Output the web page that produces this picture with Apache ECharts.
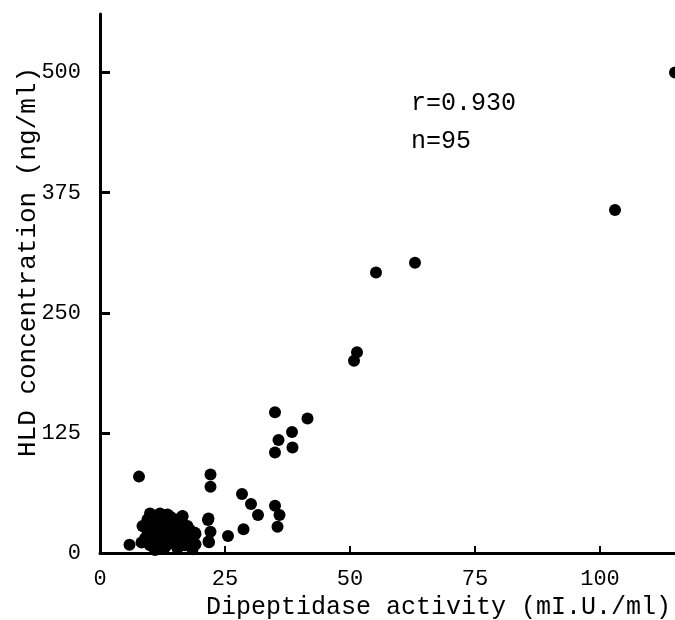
<!DOCTYPE html>
<html>
<head>
<meta charset="utf-8">
<script src="https://cdn.jsdelivr.net/npm/echarts@6/dist/echarts.min.js"></script>
<style>html,body{margin:0;padding:0;background:#fff}#c{width:675px;height:620px}</style>
</head>
<body>
<div id="c"></div>
<script>
// Dipeptidase activity (mI.U./ml)
var xValues = [115, 103, 63, 55.2, 51.4, 50.8,
  35, 41.5, 38.4, 35.7, 38.5, 35,
  7.8, 22.1, 22.1, 28.4, 30.2, 35, 35.9, 31.6, 35.5, 28.7, 25.6,
  21.6, 22.1, 21.8, 19.1, 19.1, 16.5, 5.9,
  8.5, 9, 9.5, 10, 10, 10, 11, 11, 11.5, 12, 12, 12, 12.5, 13, 13, 13.5,
  14, 14, 14.5, 15, 15, 15.5, 16, 16, 16.5, 17, 17, 17.5, 18, 18.5,
  9, 10.5, 11, 13, 14, 15, 16, 12, 10, 13, 8.3, 21.7, 21.7, 19, 11.5, 14.5,
  9.5, 11, 12.5, 13.5, 15, 16.5, 17.5, 18];
// HLD concentration (ng/ml)
var yValues = [500, 357, 302, 292, 209, 200,
  146.5, 140, 126, 117.7, 109.7, 104.5,
  79.5, 81.6, 69, 61.5, 51, 49.3, 39.6, 39.6, 27.4, 24.6, 17.7,
  34.4, 22.2, 11.1, 19.8, 9, 38.5, 8.7,
  28, 15, 35, 41, 22, 8, 30, 18, 38, 41, 25, 12, 5, 33, 20, 40,
  28, 10, 16, 35, 24, 5, 30, 14, 38, 22, 8, 28, 15, 4,
  27, 12, 3, 6, 38, 12, 20, 32, 30, 15, 11, 36, 12, 21, 22, 30,
  20, 24, 17, 26, 29, 25, 12, 24];
var xTicks = [0, 25, 50, 75, 100];
var yTicks = [0, 125, 250, 375, 500];

var pts = xValues.map(function (x, i) { return [x, yValues[i]]; });
var FONT = 'Liberation Mono, Courier New, monospace';

var chart = echarts.init(document.getElementById('c'), null, {renderer: 'canvas'});
chart.setOption({
  animation: false,
  backgroundColor: '#fff',
  grid: {left: 100, top: 14, right: 0, bottom: 67, containLabel: false},
  xAxis: {
    type: 'value', min: 0, max: 115, interval: 25,
    axisLine: {show: true, lineStyle: {color: '#000', width: 3}},
    axisTick: {show: true, inside: true, length: 7, lineStyle: {color: '#000', width: 2}},
    splitLine: {show: false},
    axisLabel: {
      color: '#000', fontFamily: FONT, fontSize: 22, margin: 15,
      showMaxLabel: false,
      formatter: function (v) { return xTicks.indexOf(v) >= 0 ? String(v) : ''; }
    }
  },
  yAxis: {
    type: 'value', min: 0, max: 561, interval: 125,
    axisLine: {show: true, lineStyle: {color: '#000', width: 3}},
    axisTick: {show: true, inside: true, length: 10, lineStyle: {color: '#000', width: 3}},
    splitLine: {show: false},
    axisLabel: {
      color: '#000', fontFamily: FONT, fontSize: 22, margin: 19,
      showMaxLabel: false,
      formatter: function (v) { return yTicks.indexOf(v) >= 0 ? String(v) : ''; }
    }
  },
  series: [{
    type: 'scatter',
    data: pts,
    symbol: 'circle',
    symbolSize: 12,
    clip: false,
    itemStyle: {color: '#000', opacity: 1}
  }],
  graphic: [
    {type: 'text', x: 28, y: 262, rotation: Math.PI / 2,
     style: {text: 'HLD concentration (ng/ml)', font: '26px ' + FONT, fill: '#000',
             textAlign: 'center', textVerticalAlign: 'middle'}},
    {type: 'text', x: 671, y: 607,
     style: {text: 'Dipeptidase activity (mI.U./ml)', font: '25px ' + FONT, fill: '#000',
             textAlign: 'right', textVerticalAlign: 'middle'}},
    {type: 'text', x: 411, y: 103,
     style: {text: 'r=0.930', font: '25px ' + FONT, fill: '#000',
             textAlign: 'left', textVerticalAlign: 'middle'}},
    {type: 'text', x: 411, y: 141,
     style: {text: 'n=95', font: '25px ' + FONT, fill: '#000',
             textAlign: 'left', textVerticalAlign: 'middle'}}
  ]
});
</script>
</body>
</html>
